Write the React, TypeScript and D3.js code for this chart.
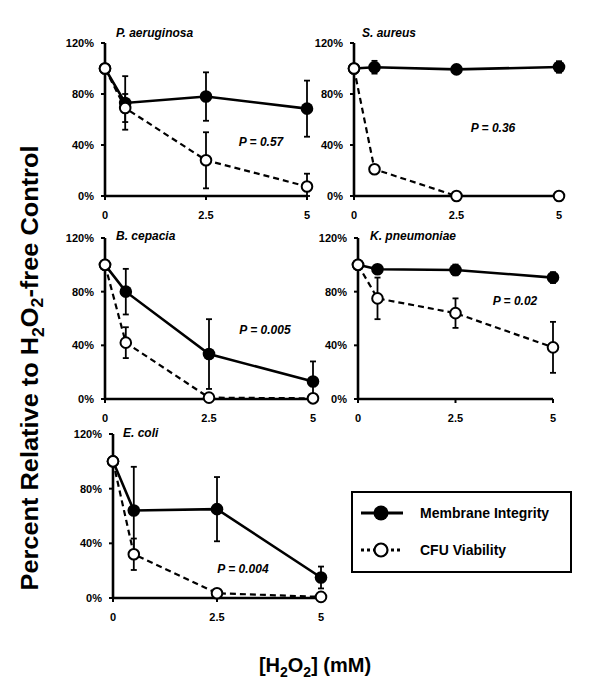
import React from "react";
import * as d3 from "d3";

// ---------- DATA ----------
const doses = [0, 0.5, 2.5, 5];
const xTicks = [0, 2.5, 5];
const xTickLabels = ["0", "2.5", "5"];
const yTicks = [0, 40, 80, 120];
const yTickLabels = ["0%", "40%", "80%", "120%"];

const species = ["P. aeruginosa", "S. aureus", "B. cepacia", "K. pneumoniae", "E. coli"];
const pValues = ["P = 0.57", "P = 0.36", "P = 0.005", "P = 0.02", "P = 0.004"];

const aeruginosaMembrane = [100, 73, 78, 68.5];
const aeruginosaMembraneErr = [0, 21, 19, 22];
const aeruginosaCfu = [100, 69, 28, 7.5];
const aeruginosaCfuErr = [0, 11, 22, 10];

const aureusMembrane = [100, 101, 99.3, 101.2];
const aureusMembraneErr = [0, 5, 1, 4.5];
const aureusCfu = [100, 21, 0, 0];
const aureusCfuErr = [0, 3, 0, 0];

const cepaciaMembrane = [100, 80, 33.5, 13];
const cepaciaMembraneErr = [0, 17, 26, 15];
const cepaciaCfu = [100, 42, 1, 0.5];
const cepaciaCfuErr = [0, 11.5, 0, 0];

const pneumoniaeMembrane = [100, 96.7, 96.2, 90.5];
const pneumoniaeMembraneErr = [0, 3, 4, 4];
const pneumoniaeCfu = [100, 75, 64, 38.5];
const pneumoniaeCfuErr = [0, 15.5, 11, 19];

const coliMembrane = [100, 64, 65, 15];
const coliMembraneErr = [0, 32, 23.5, 8];
const coliCfu = [100, 32, 3.5, 0.8];
const coliCfuErr = [0, 11.5, 0, 0];

const membraneSeries = [aeruginosaMembrane, aureusMembrane, cepaciaMembrane, pneumoniaeMembrane, coliMembrane];
const membraneErrors = [aeruginosaMembraneErr, aureusMembraneErr, cepaciaMembraneErr, pneumoniaeMembraneErr, coliMembraneErr];
const cfuSeries = [aeruginosaCfu, aureusCfu, cepaciaCfu, pneumoniaeCfu, coliCfu];
const cfuErrors = [aeruginosaCfuErr, aureusCfuErr, cepaciaCfuErr, pneumoniaeCfuErr, coliCfuErr];

const legendLabels = ["Membrane Integrity", "CFU Viability"];

// ---------- LAYOUT ----------
const panels = [
  { x0: 105, x1: 307, y0: 196, y1: 43, title: [116, 37], p: [261, 142] },
  { x0: 354, x1: 559, y0: 196, y1: 43, title: [362, 37], p: [493, 128] },
  { x0: 105, x1: 313, y0: 399, y1: 238, title: [116, 240], p: [265, 330] },
  { x0: 358, x1: 553, y0: 399, y1: 238, title: [370, 240], p: [515, 301] },
  { x0: 113, x1: 321, y0: 598, y1: 434, title: [123, 437], p: [243, 569] },
];

const FONT = "'Liberation Sans', Arial, Helvetica, sans-serif";

function Panel({ i }: { i: number }) {
  const g = panels[i];
  const x = d3.scaleLinear().domain([0, 5]).range([g.x0, g.x1]);
  const y = d3.scaleLinear().domain([0, 120]).range([g.y0, g.y1]);
  const line = d3
    .line<number>()
    .x((_, k) => x(doses[k]))
    .y((d) => y(d));
  const mem = membraneSeries[i];
  const memE = membraneErrors[i];
  const cfu = cfuSeries[i];
  const cfuE = cfuErrors[i];

  const errBars = (vals: number[], errs: number[], key: string) =>
    vals.map((v, k) => {
      if (!errs[k]) return null;
      const xx = x(doses[k]);
      const top = y(v + errs[k]);
      const bot = y(Math.max(0, v - errs[k]));
      return (
        <g key={key + k} stroke="#000" strokeWidth={1.8}>
          <line x1={xx} x2={xx} y1={top} y2={bot} />
          <line x1={xx - 3} x2={xx + 3} y1={top} y2={top} />
          <line x1={xx - 3} x2={xx + 3} y1={bot} y2={bot} />
        </g>
      );
    });

  return (
    <g>
      {/* axes */}
      <line x1={g.x0} x2={g.x0} y1={y(120)} y2={y(0) + 1} stroke="#000" strokeWidth={2.6} />
      <line x1={g.x0 - 1} x2={g.x1} y1={y(0)} y2={y(0)} stroke="#000" strokeWidth={2.6} />
      {yTicks.map((t, k) => (
        <g key={"yt" + k}>
          <line x1={g.x0 - 4} x2={g.x0} y1={y(t)} y2={y(t)} stroke="#000" strokeWidth={2} />
          <text
            x={g.x0 - 11}
            y={y(t)}
            dy="0.36em"
            textAnchor="end"
            fontSize={11}
            fontWeight="bold"
            fontFamily={FONT}
          >
            {yTickLabels[k]}
          </text>
        </g>
      ))}
      {xTicks.map((t, k) => (
        <g key={"xt" + k}>
          <line x1={x(t)} x2={x(t)} y1={y(0)} y2={y(0) + 4} stroke="#000" strokeWidth={2} />
          <text
            x={x(t)}
            y={y(0) + 23}
            textAnchor="middle"
            fontSize={11}
            fontWeight="bold"
            fontFamily={FONT}
          >
            {xTickLabels[k]}
          </text>
        </g>
      ))}
      {/* title */}
      <text
        x={g.title[0]}
        y={g.title[1]}
        fontSize={12}
        fontWeight="bold"
        fontStyle="italic"
        fontFamily={FONT}
      >
        {species[i]}
      </text>
      <text
        x={g.p[0]}
        y={g.p[1]}
        dy="0.36em"
        textAnchor="middle"
        fontSize={12}
        fontWeight="bold"
        fontStyle="italic"
        fontFamily={FONT}
      >
        {pValues[i]}
      </text>
      {/* lines */}
      <path d={line(cfu) || ""} fill="none" stroke="#000" strokeWidth={2.2} strokeDasharray="6,4" />
      <path d={line(mem) || ""} fill="none" stroke="#000" strokeWidth={2.6} />
      {errBars(mem, memE, "me")}
      {errBars(cfu, cfuE, "ce")}
      {mem.map((v, k) => (
        <circle key={"m" + k} cx={x(doses[k])} cy={y(v)} r={6.3} fill="#000" />
      ))}
      {cfu.map((v, k) => (
        <circle
          key={"c" + k}
          cx={x(doses[k])}
          cy={y(v)}
          r={5.3}
          fill="#fff"
          stroke="#000"
          strokeWidth={2}
        />
      ))}
    </g>
  );
}

export default function App() {
  return (
    <svg
      width={600}
      height={696}
      style={{ position: "absolute", left: 0, top: 0, background: "#fff" }}
    >
      <rect x={0} y={0} width={600} height={696} fill="#fff" />
      {panels.map((_, i) => (
        <Panel key={i} i={i} />
      ))}
      {/* Y axis title */}
      <text
        transform="translate(38,368) rotate(-90)"
        textAnchor="middle"
        fontSize={23}
        fontWeight="bold"
        fontFamily={FONT}
        textLength={445}
        lengthAdjust="spacingAndGlyphs"
      >
        Percent Relative to H
        <tspan fontSize={16} dy="0.35em">2</tspan>
        <tspan dy="-0.25em">O</tspan>
        <tspan fontSize={16} dy="0.35em">2</tspan>
        <tspan dy="-0.25em">-free Control</tspan>
      </text>
      {/* X axis title */}
      <text x={315} y={672} textAnchor="middle" fontSize={20} fontWeight="bold" fontFamily={FONT}>
        [H
        <tspan fontSize={14} dy="0.35em">2</tspan>
        <tspan dy="-0.25em">O</tspan>
        <tspan fontSize={14} dy="0.35em">2</tspan>
        <tspan dy="-0.25em">] (mM)</tspan>
      </text>
      {/* Legend */}
      <rect x={352} y={492} width={219} height={80} fill="#fff" stroke="#000" strokeWidth={2} />
      <line x1={361} x2={403} y1={513} y2={513} stroke="#000" strokeWidth={3} />
      <circle cx={381} cy={513} r={7.5} fill="#000" />
      <line x1={361} x2={403} y1={550} y2={550} stroke="#000" strokeWidth={3} strokeDasharray="3,3" />
      <circle cx={381} cy={550} r={6.5} fill="#fff" stroke="#000" strokeWidth={2.2} />
      {legendLabels.map((l, k) => (
        <text
          key={l}
          x={420}
          y={k === 0 ? 513 : 550}
          dy="0.36em"
          fontSize={14}
          fontWeight="bold"
          fontFamily={FONT}
        >
          {l}
        </text>
      ))}
    </svg>
  );
}
